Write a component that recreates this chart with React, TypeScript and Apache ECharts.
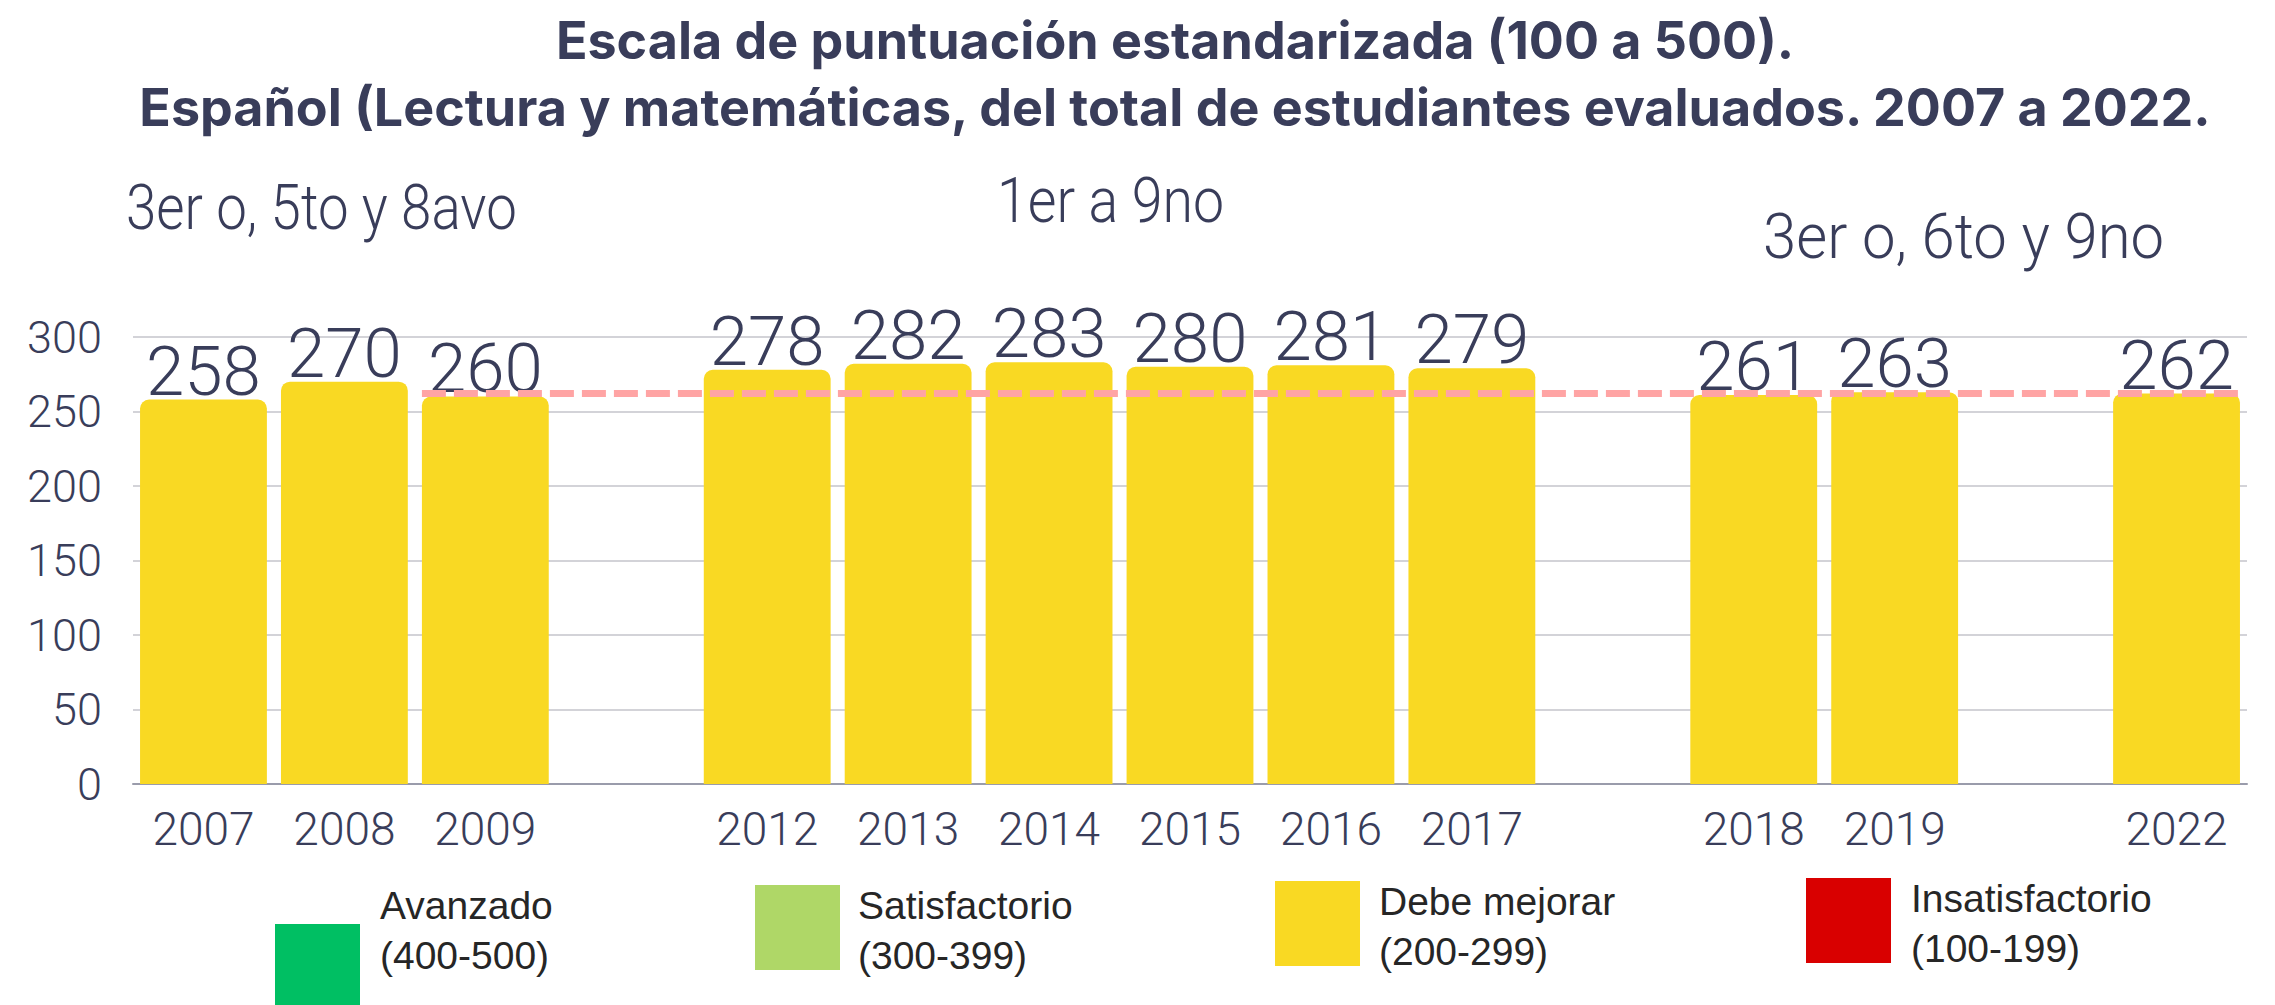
import React, { useEffect, useRef } from "react";
import * as echarts from "echarts";

// ---- data ----
const categories = ["2007", "2008", "2009", "", "2012", "2013", "2014", "2015", "2016", "2017", "", "2018", "2019", "", "2022"];
const scores = [258, 270, 260, null, 278, 282, 283, 280, 281, 279, null, 261, 263, null, 262];
const yMin = 0;
const yMax = 300;
const yInterval = 50;
const referenceValue = 262;
const referenceFrom = "2009";
const referenceTo = "2022";
const titleLines = [
  "Escala de puntuación estandarizada (100 a 500).",
  "Español (Lectura y matemáticas, del total de estudiantes evaluados. 2007 a 2022.",
];
const groupLabels = ["3er o, 5to y 8avo", "1er a 9no", "3er o, 6to y 9no"];
const legendNames = ["Avanzado", "Satisfactorio", "Debe mejorar", "Insatisfactorio"];
const legendRanges = ["(400-500)", "(300-399)", "(200-299)", "(100-199)"];

const NAVY = "#393d5a";
const BAR = "#f9d923";
const legendColors = ["#00bf63", "#afd767", BAR, "#d90000"];

export default function App() {
  const ref = useRef<HTMLDivElement>(null);
  useEffect(() => {
    document.body.style.margin = "0";
    if (!ref.current) return;
    const chart = echarts.init(ref.current, undefined, { renderer: "svg" });
    const halfBar = 0.45;
    const refStart = categories.indexOf(referenceFrom) - halfBar;
    const refEnd = categories.indexOf(referenceTo) + halfBar;

    const legendBoxes = [
      { x: 275, y: 924, tx: 380, ty: 905 },
      { x: 755, y: 885, tx: 858, ty: 905 },
      { x: 1275, y: 881, tx: 1379, ty: 901 },
      { x: 1806, y: 878, tx: 1911, ty: 898 },
    ];

    const graphic: any[] = [
      ...titleLines.map((t, i) => ({
        type: "text",
        x: 1175,
        y: i === 0 ? 40 : 107,
        style: {
          text: t,
          fill: NAVY,
          font: "700 52px Inter",
          align: "center",
          verticalAlign: "middle",
        },
      })),
      ...groupLabels.map((t, i) => ({
        type: "text",
        x: [126, 997, 1763][i],
        y: [207, 200, 236][i],
        scaleX: [0.867, 0.88, 0.95][i],
        style: {
          text: t,
          fill: NAVY,
          font: "300 63px Roboto",
          align: "left",
          verticalAlign: "middle",
        },
      })),
    ];
    legendBoxes.forEach((b, i) => {
      graphic.push({
        type: "rect",
        shape: { x: b.x, y: b.y, width: 85, height: 85 },
        style: { fill: legendColors[i] },
      });
      graphic.push({
        type: "text",
        x: b.tx,
        y: b.ty,
        style: {
          text: legendNames[i],
          fill: "#262626",
          font: "39px 'Liberation Sans'",
          align: "left",
          verticalAlign: "middle",
        },
      });
      graphic.push({
        type: "text",
        x: b.tx,
        y: b.ty + 50,
        style: {
          text: legendRanges[i],
          fill: "#262626",
          font: "39px 'Liberation Sans'",
          align: "left",
          verticalAlign: "middle",
        },
      });
    });

    chart.setOption({
      animation: false,
      backgroundColor: "#ffffff",
      grid: { left: 133, right: 28, top: 337, bottom: 221, containLabel: false, outerBoundsMode: "none" },
      xAxis: [
        {
          type: "category",
          data: categories,
          axisTick: { show: false },
          axisLine: { show: true, lineStyle: { color: "#9a9cab", width: 2 } },
          axisLabel: { color: NAVY, fontFamily: "Roboto", fontWeight: 300, fontSize: 46, margin: 22 },
        },
        { type: "value", min: -0.5, max: categories.length - 0.5, show: false },
      ],
      yAxis: {
        type: "value",
        min: yMin,
        max: yMax,
        interval: yInterval,
        axisLine: { show: false },
        axisTick: { show: false },
        splitLine: { lineStyle: { color: "#d3d3d8", width: 2 } },
        axisLabel: { color: NAVY, fontFamily: "Roboto", fontWeight: 300, fontSize: 45, margin: 31 },
      },
      series: [
        {
          type: "bar",
          data: scores,
          barCategoryGap: "10%",
          itemStyle: { color: BAR, borderRadius: [9, 9, 0, 0] },
          label: {
            show: true,
            position: "top",
            distance: -6,
            color: NAVY,
            fontFamily: "Roboto",
            fontWeight: 300,
            fontSize: 69,
          },
          z: 2,
        },
        {
          type: "line",
          xAxisIndex: 1,
          data: [
            [refStart, referenceValue],
            [refEnd, referenceValue],
          ],
          symbol: "none",
          lineStyle: { color: "#ffa4a4", width: 7, type: [24, 8] },
          z: 5,
          silent: true,
        },
      ],
      graphic,
    });
    return () => chart.dispose();
  }, []);
  return <div ref={ref} style={{ width: 2275, height: 1005 }} />;
}
